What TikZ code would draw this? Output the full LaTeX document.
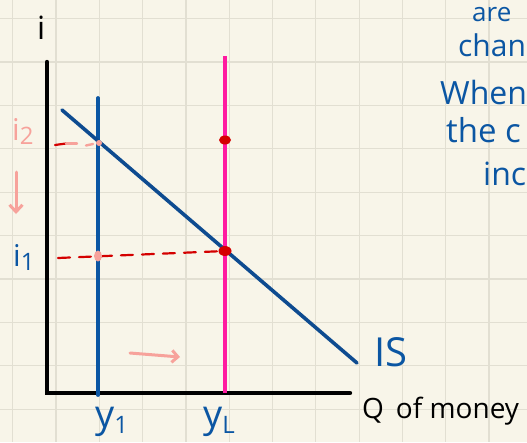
\documentclass[tikz,border=0pt]{standalone}
\usepackage{fontspec}
\setmainfont{Open Sans}
\usetikzlibrary{arrows.meta}
\definecolor{paper}{HTML}{F8F5E9}
\definecolor{gridc}{HTML}{E2DFD2}
\definecolor{penblue}{HTML}{0B56A3}
\definecolor{isblue}{HTML}{0E4B90}
\definecolor{penpink}{HTML}{FF1AA0}
\definecolor{salmon}{HTML}{F7A29B}
\definecolor{penred}{HTML}{D40000}
\newcommand{\subsc}[1]{\raisebox{-0.3ex}{\fontsize{24}{26}\selectfont #1}}
\tikzset{
  axisline/.style={line width=4.4pt, black},
  curveline/.style={line width=3.6pt, isblue},
  bluevert/.style={line width=3.8pt, penblue},
  pinkvert/.style={line width=3.8pt, penpink},
  reddash/.style={line width=2.2pt, penred, dash pattern=on 12pt off 9pt},
  lab/.style={inner sep=0pt, anchor=base west},
}
\begin{document}
\begin{tikzpicture}[x=1pt,y=-1pt]
\useasboundingbox (0,0) rectangle (527,442);
\fill[paper] (0,0) rectangle (527,442);
\begin{scope}
\clip (0,0) rectangle (527,442);
\foreach \gx in {12.7,56,99.3,142.6,185.9,229.2,272.5,315.8,359.1,402.4,445.7,489} {
  \draw[gridc, line width=1.2pt] (\gx,0) -- (\gx,442);
}
\foreach \gy in {18.5,62,105.4,148.8,192.2,235.6,279,322.4,365.8,409.2} {
  \draw[gridc, line width=1.2pt] (0,\gy) -- (527,\gy);
}
% axes
\coordinate (ytop) at (47,62);
\coordinate (origin) at (47,393);
\coordinate (xend) at (350,393);
\draw[axisline, line cap=round] (ytop) -- (origin) -- (xend);
% verticals
\coordinate (y1top) at (98,98);
\coordinate (y1bot) at (98,395);
\draw[bluevert, line cap=round] (y1top) -- (y1bot);
\coordinate (yLtop) at (225,56);
\coordinate (yLbot) at (225,393);
\draw[pinkvert] (yLtop) -- (yLbot);
% IS curve
\coordinate (isA) at (62,110);
\coordinate (isB) at (357,363);
\draw[curveline, line cap=round] (isA) -- (isB);
% dashed
\coordinate (d2a) at (55,145);
\coordinate (d2b) at (99,143);
\draw[penred, line width=2.2pt, line cap=round] (d2a) -- (66,143.5);
\draw[salmon, line width=2.4pt, line cap=round] (66,143.5) -- (77,143.5);
\draw[salmon, line width=2.4pt, line cap=round] (86,145.5) -- (93,144);
\coordinate (d1a) at (58,258);
\coordinate (d1b) at (225,251);
\draw[reddash, line cap=round] (d1a) -- (d1b);
% dots
\fill[salmon] (d2b) circle (3pt);
\fill[salmon] (98,256) ellipse (4pt and 5.5pt);
\fill[penred] (225,140) ellipse (6pt and 4.5pt);
\fill[penred] (225,251) ellipse (6.5pt and 5pt);
% arrows
\coordinate (da) at (16,172);
\coordinate (db) at (16,214);
\draw[salmon, line width=3pt, line cap=round, -{Straight Barb[length=7pt,width=13pt,line width=3pt]}] (da) -- (db);
\coordinate (ra) at (130,353);
\coordinate (rb) at (180,357);
\draw[salmon, line width=3pt, line cap=round, -{Straight Barb[length=6pt,width=12pt,line width=3pt]}] (ra) -- (rb);
% labels
\node[lab, font=\fontsize{32}{34}\selectfont, text=black] (il) at (37,39) {i};
\node[lab, font=\fontsize{30}{32}\selectfont, text=salmon] (i2) at (12,140) {i\subsc{2}};
\node[lab, font=\fontsize{30}{32}\selectfont, text=penblue] (i1) at (13,266) {i\subsc{1}};
\node[lab, font=\fontsize{38}{40}\selectfont, text=penblue] (y1) at (95,427) {y\subsc{1}};
\node[lab, font=\fontsize{38}{40}\selectfont, text=penblue] (yL) at (203,427) {y\subsc{L}};
\node[lab, font=\fontsize{40}{42}\selectfont, text=penblue] (IS) at (374,366) {IS};
\node[lab, font=\fontsize{28}{30}\selectfont, text=black] (Q) at (362,418) {Q\, of money};
% right notes
\node[lab, font=\fontsize{26}{28}\selectfont, text=penblue] (n0) at (472,21) {are};
\node[lab, font=\fontsize{30}{32}\selectfont, text=penblue] (n1) at (458,56) {chan};
\node[lab, font=\fontsize{32}{34}\selectfont, text=penblue] (n2) at (440,104) {When};
\node[lab, font=\fontsize{33}{35}\selectfont, text=penblue] (n3) at (446,142) {the c};
\node[lab, font=\fontsize{32}{34}\selectfont, text=penblue] (n4) at (483,185) {inc};
\end{scope}
\end{tikzpicture}
\end{document}
